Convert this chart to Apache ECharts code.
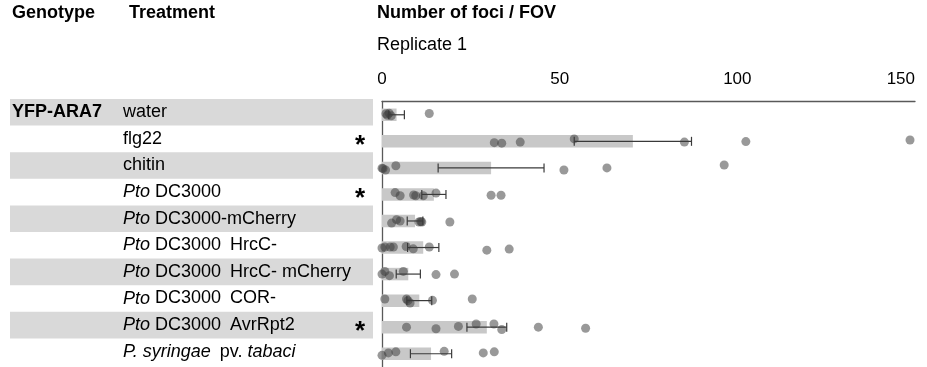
<!DOCTYPE html>
<html>
<head>
<meta charset="utf-8">
<script src="https://cdn.jsdelivr.net/npm/echarts@6/dist/echarts.min.js"></script>
<style>
  html, body { margin: 0; padding: 0; background: #ffffff; }
  #chart { width: 927px; height: 367px; }
</style>
</head>
<body>
<div id="chart"></div>
<script>
// Rows of the table / chart, top to bottom
const treatments = [
  'water',
  'flg22',
  'chitin',
  'Pto DC3000',
  'Pto DC3000-mCherry',
  'Pto DC3000\u2002HrcC-',
  'Pto DC3000\u2002HrcC- mCherry',
  'Pto DC3000\u2002COR-',
  'Pto DC3000\u2002AvrRpt2',
  'P. syringae\u2002pv. tabaci'
];
const genotypes = ['YFP-ARA7', '', '', '', '', '', '', '', '', ''];
const significance = ['', '*', '', '*', '', '', '', '', '*', ''];

// Mean number of foci per field of view and its standard error
const meanFoci = [4.1, 70.6, 30.7, 14.6, 9.3, 11.6, 7.4, 10.5, 29.5, 13.8];
const semFoci  = [2.2, 16.5, 14.9, 3.4, 2.2, 4.4, 3.4, 3.5, 5.6, 5.8];

// Individual fields of view
const fociPoints = [
  [1.1, 1.5, 2.0, 2.6, 13.3],
  [31.6, 33.7, 38.9, 54.1, 85.1, 102.4, 148.6],
  [0, 0.3, 1.0, 3.9, 51.2, 63.3, 96.3],
  [3.7, 5.1, 8.9, 9.5, 11.6, 15.2, 30.7, 33.5],
  [2.7, 4.1, 5.1, 10.4, 10.9, 11.2, 19.1],
  [0, 0.8, 2.3, 3.2, 6.8, 8.8, 13.3, 29.5, 35.8],
  [0, 0.8, 2.1, 6.0, 15.2, 20.4],
  [0.8, 6.9, 7.3, 7.9, 14.2, 25.4],
  [6.9, 15.2, 21.5, 26.5, 31.5, 33.7, 44.0, 57.3],
  [0, 1.8, 3.9, 17.5, 28.5, 31.6]
];
// Vertical scatter of each point within its row (fraction of a row)
const pointJitter = [
  [-0.04, 0.02, -0.06, 0.04, -0.05],
  [0.05, 0.07, 0.03, -0.09, 0.03, 0.01, -0.05],
  [0.01, 0.03, 0.08, -0.08, 0.08, 0, -0.11],
  [-0.07, 0.05, 0.02, 0.05, 0.05, -0.05, 0.03, 0.03],
  [0.08, -0.05, 0, 0.04, 0.02, 0.04, 0.04],
  [0.02, -0.02, -0.02, -0.02, -0.04, 0.05, -0.02, 0.1, 0.06],
  [0, -0.1, 0.06, -0.1, 0.02, 0],
  [-0.06, -0.06, 0, 0.09, -0.01, -0.06],
  [0, 0.06, -0.03, -0.12, -0.12, 0.09, 0, 0.04],
  [0.06, -0.03, -0.07, -0.09, -0.03, -0.07]
];
const axisTicks = [0, 50, 100, 150];

const FONT = 'Liberation Sans, Arial, Helvetica, sans-serif';
const ITALIC_WORDS = ['P. syringae', 'tabaci', 'Pto'];

// Wrap species names in italic rich-text blocks
function richTreatment(label) {
  let parts = [{ t: label, i: false }];
  ITALIC_WORDS.forEach(w => {
    const next = [];
    parts.forEach(p => {
      if (p.i) { next.push(p); return; }
      const seg = p.t.split(w);
      seg.forEach((s, k) => {
        if (s) next.push({ t: s, i: false });
        if (k < seg.length - 1) next.push({ t: w, i: true });
      });
    });
    parts = next;
  });
  return parts.map(p => (p.i ? '{i|' : '{n|') + p.t + '}').join('');
}

const scatterData = [];
fociPoints.forEach((row, i) => {
  row.forEach((v, j) => scatterData.push([v, i + pointJitter[i][j]]));
});
const errorData = meanFoci.map((m, i) => [m - semFoci[i], m + semFoci[i], i]);

const chart = echarts.init(document.getElementById('chart'), null, { renderer: 'canvas' });

const headerStyle = { fontFamily: FONT, fontSize: 18, fontWeight: 'bold', color: '#000' };

chart.setOption({
  animation: false,
  backgroundColor: '#ffffff',
  title: [
    { text: 'Genotype', left: 12, top: 4, padding: 0, textStyle: headerStyle },
    { text: 'Treatment', left: 129, top: 4, padding: 0, textStyle: headerStyle },
    { text: 'Number of foci / FOV', left: 377, top: 4, padding: 0, textStyle: headerStyle },
    { text: 'Replicate 1', left: 377, top: 36, padding: 0,
      textStyle: { fontFamily: FONT, fontSize: 18, fontWeight: 'normal', color: '#000' } }
  ],
  grid: [
    { left: 382, right: 12, top: 101.5, height: 266 },
    { left: 10, width: 363, top: 99, height: 266 }
  ],
  xAxis: [
    {
      gridIndex: 0, type: 'value', position: 'top',
      min: axisTicks[0], max: axisTicks[axisTicks.length - 1], interval: axisTicks[1] - axisTicks[0],
      axisLine: { show: true, onZero: false, lineStyle: { color: '#595959', width: 1.3 } },
      axisTick: { show: false },
      splitLine: { show: false },
      axisLabel: { fontFamily: FONT, fontSize: 17, color: '#000', margin: 14, alignMaxLabel: 'right' }
    },
    { gridIndex: 1, type: 'value', min: 0, max: 1, show: false }
  ],
  yAxis: [
    {
      gridIndex: 0, type: 'category', data: treatments, inverse: true,
      axisLine: { show: true, onZero: false, lineStyle: { color: '#595959', width: 1.3 } },
      axisTick: { show: false }, axisLabel: { show: false }, splitLine: { show: false }
    },
    { gridIndex: 0, type: 'value', min: -0.5, max: 9.5, inverse: true, show: false },
    {
      gridIndex: 1, type: 'category', data: treatments, inverse: true, position: 'left', offset: 0,
      axisLine: { show: false }, axisTick: { show: false },
      splitArea: { show: true, interval: 0, areaStyle: { color: ['#d9d9d9', 'rgba(255,255,255,0)'] } },
      axisLabel: {
        inside: true, margin: 113, interval: 0,
        formatter: v => richTreatment(v),
        rich: {
          n: { fontFamily: FONT, fontSize: 18, color: '#000', lineHeight: 22 },
          i: { fontFamily: FONT, fontSize: 18, color: '#000', fontStyle: 'italic', lineHeight: 22 }
        }
      }
    },
    {
      gridIndex: 1, type: 'category', data: genotypes, inverse: true, position: 'left', offset: 0,
      axisLine: { show: false }, axisTick: { show: false }, splitArea: { show: false },
      axisLabel: { inside: true, margin: 2, interval: 0, fontFamily: FONT, fontSize: 18, fontWeight: 'bold', color: '#000' }
    },
    {
      gridIndex: 1, type: 'category', data: significance, inverse: true, position: 'right', offset: 0,
      axisLine: { show: false }, axisTick: { show: false }, splitArea: { show: false },
      axisLabel: {
        inside: true, margin: 8, interval: 0,
        formatter: v => (v ? '{s|' + v + '}' : ''),
        rich: {
          s: { fontFamily: FONT, fontSize: 26, fontWeight: 'bold', color: '#000', lineHeight: 26, padding: [14, 0, 0, 0] }
        }
      }
    }
  ],
  series: [
    {
      name: 'mean', type: 'bar', xAxisIndex: 0, yAxisIndex: 0,
      data: meanFoci, barWidth: 12.5, silent: true,
      itemStyle: { color: '#c8c8c8' }, z: 1
    },
    {
      name: 'sem', type: 'custom', xAxisIndex: 0, yAxisIndex: 0,
      data: errorData, dimensions: ['low', 'high', 'row'],
      encode: { x: ['low', 'high'], y: 'row' }, silent: true, z: 2,
      renderItem: (params, api) => {
        const lo = api.coord([api.value(0), api.value(2)]);
        const hi = api.coord([api.value(1), api.value(2)]);
        const cap = 4.5;
        const st = { stroke: '#3a3a3a', lineWidth: 1.2 };
        return {
          type: 'group',
          children: [
            { type: 'line', shape: { x1: lo[0], y1: lo[1], x2: hi[0], y2: hi[1] }, style: st },
            { type: 'line', shape: { x1: lo[0], y1: lo[1] - cap, x2: lo[0], y2: lo[1] + cap }, style: st },
            { type: 'line', shape: { x1: hi[0], y1: hi[1] - cap, x2: hi[0], y2: hi[1] + cap }, style: st }
          ]
        };
      }
    },
    {
      name: 'fields', type: 'scatter', xAxisIndex: 0, yAxisIndex: 1,
      data: scatterData, symbol: 'circle', symbolSize: 9, clip: false, silent: true, z: 3,
      itemStyle: { color: 'rgba(60,60,60,0.65)' }
    }
  ]
});
</script>
</body>
</html>
